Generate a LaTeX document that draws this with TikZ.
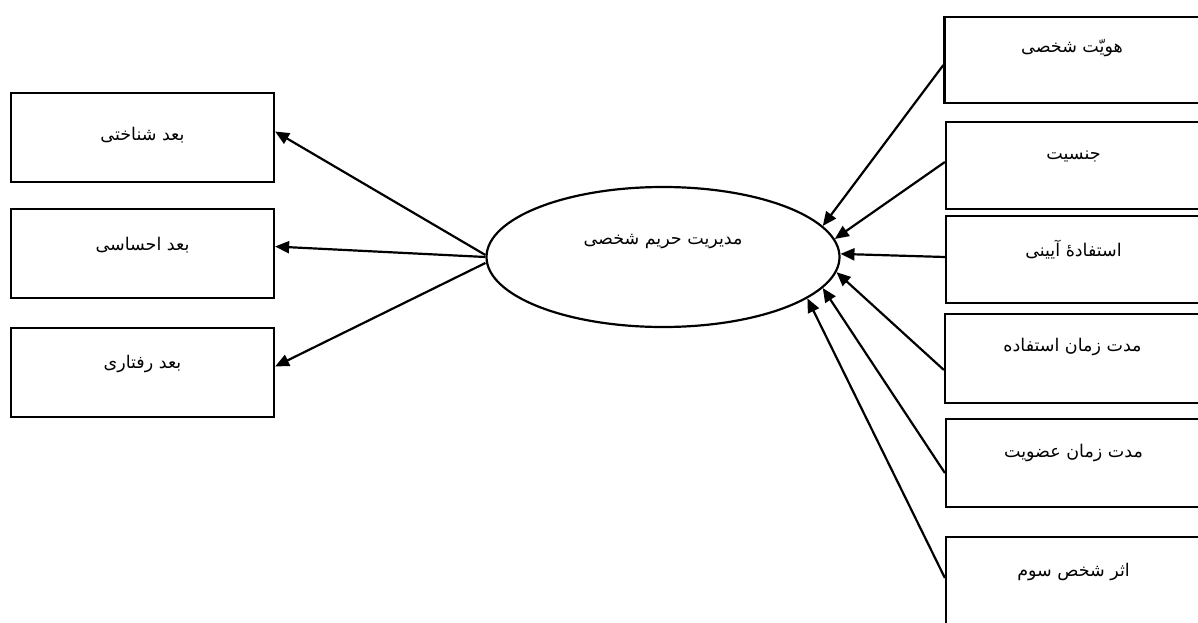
\documentclass[tikz,border=0pt]{standalone}
\usepackage{fontspec}
\usetikzlibrary{shapes.geometric,arrows.meta}
\TeXXeTstate=1
\newfontfamily\arabicfont[Script=Arabic]{DejaVu Sans}
\newcommand{\fa}{\arabicfont\fontsize{17.5}{20}\selectfont}
\tikzset{
  box/.style={draw, line width=2.2pt, rectangle, inner sep=0pt},
  lbox/.style={box, minimum width=263pt, minimum height=89pt},
  rbox/.style={box, minimum width=255pt, minimum height=87pt},
  oval/.style={draw, line width=2.2pt, ellipse, inner sep=0pt, minimum width=353pt, minimum height=140pt},
  conn/.style={line width=2.2pt, -{Triangle[length=14pt,width=12pt]}},
  txt/.style={inner sep=0pt, font=\fa}
}
\begin{document}
\begin{tikzpicture}[x=1pt,y=-1pt]
\useasboundingbox (0,0) rectangle (1198,623);
% left boxes
\node[lbox, label={[txt,name=l1t,yshift=2pt]center:\beginR بعد شناختی\endR}] (l1) at (142.5,137.5) {};
\node[lbox, label={[txt,name=l2t,yshift=8pt]center:\beginR بعد احساسی\endR}] (l2) at (142.5,253.5) {};
\node[lbox, label={[txt,name=l3t,yshift=9pt]center:\beginR بعد رفتاری\endR}] (l3) at (142.5,372.5) {};
% ellipse
\node[oval] (e) at (663,257) {};
\node[txt] (et) at ([yshift=15pt]e.center) {\beginR مدیریت حریم شخصی\endR};
% right boxes
\node[rbox, minimum height=86pt, label={[txt,name=r1t,yshift=12pt]center:\beginR هویّت شخصی\endR}] (r1) at (1072,60) {};
\node[rbox, label={[txt,name=r2t,yshift=9pt]center:\beginR جنسیت\endR}] (r2) at (1073.5,165.5) {};
\node[rbox, label={[txt,name=r3t,yshift=10pt]center:\beginR استفادهٔ آیینی\endR}] (r3) at (1073.5,259.5) {};
\node[rbox, minimum height=89pt, label={[txt,name=r4t,yshift=12pt]center:\beginR مدت زمان استفاده\endR}] (r4) at (1072.5,358.5) {};
\node[rbox, minimum height=88pt, label={[txt,name=r5t,yshift=10pt]center:\beginR مدت زمان عضویت\endR}] (r5) at (1073.5,463) {};
\node[rbox, minimum height=90pt, label={[txt,name=r6t,yshift=10pt]center:\beginR اثر شخص سوم\endR}] (r6) at (1073.5,582) {};
% left connectors
\draw[conn] ([yshift=2pt]e.west) -- ([yshift=6pt]l1.east);
\draw[conn] ([yshift=0pt]e.west) -- ([yshift=7pt]l2.east);
\draw[conn] ([yshift=-6pt]e.west) -- ([yshift=6pt]l3.east);
% right connectors
\draw[conn] ([yshift=-5pt]r1.west) -- (e.11.5);
\draw[conn] ([yshift=3.5pt]r2.west) -- (e.6.8);
\draw[conn] ([yshift=2.5pt]r3.west) -- (e.1);
\draw[conn] ([yshift=-11.5pt]r4.west) -- (e.-5.9);
\draw[conn] ([yshift=-10pt]r5.west) -- (e.-11.7);
\draw[conn] ([yshift=4pt]r6.west) -- (e.-16.3);
\end{tikzpicture}
\end{document}
